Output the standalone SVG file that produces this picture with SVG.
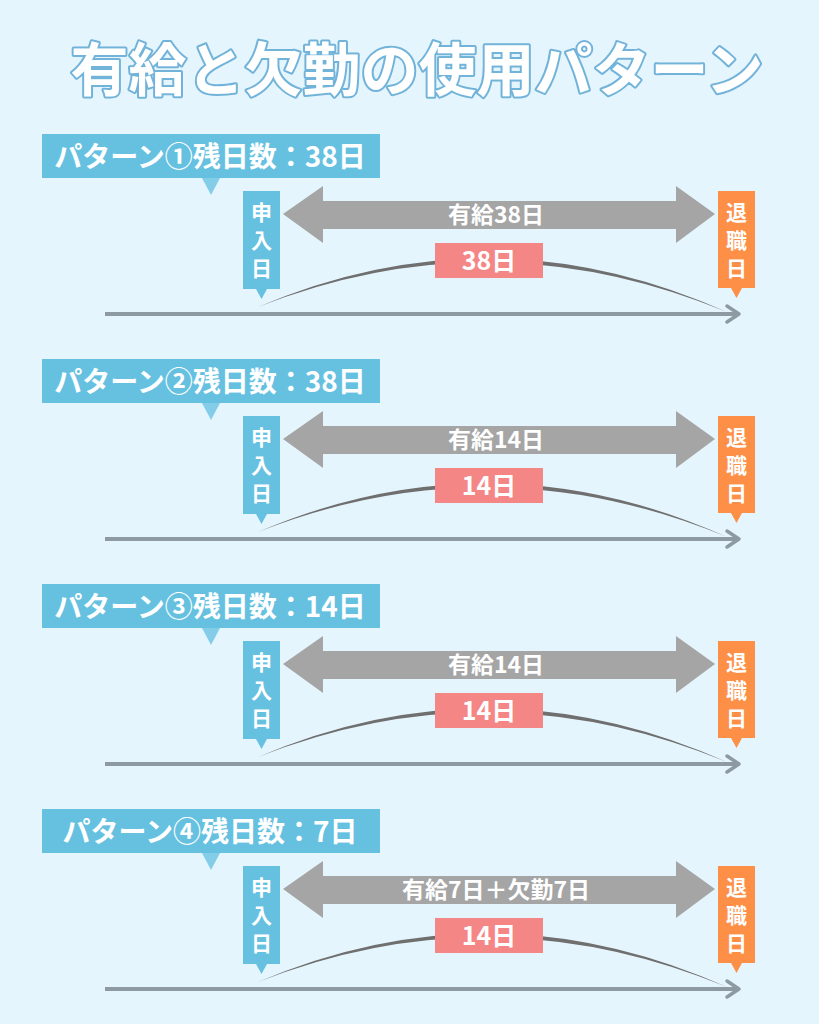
<svg xmlns="http://www.w3.org/2000/svg" width="819" height="1024" viewBox="0 0 819 1024">
<style>
.t{font-family:"Noto Sans CJK JP","Noto Sans",sans-serif;font-weight:700;fill:#fff}
.lbl{font-size:28px;text-anchor:middle}
.v{font-size:21px;writing-mode:vertical-rl;letter-spacing:7px}
.ar{font-size:23px;text-anchor:middle}
.pk{font-size:25px;text-anchor:middle}
.title{font-size:58px;text-anchor:middle;stroke:#72b3da;stroke-width:4;stroke-linejoin:round;paint-order:stroke}
.blue{fill:#66c1e1}
.tail{fill:#84cde8}
.org{fill:#fe8f47}
.gray{fill:#a5a5a5}
.pink{fill:#f58686}
.tl{stroke:#8d9aa2;stroke-width:4;fill:none}
.tlh{stroke:#8d9aa2;stroke-width:3.5;fill:none;stroke-linecap:round;stroke-linejoin:round}
.cv{fill:#6f6f6f}
</style>
<rect width="819" height="1024" fill="#e5f5fd"/>
<g id="title"><text class="t title" x="417" y="91">有給と欠勤の使用パターン</text></g>

<g id="pattern1">
<g id="p1-label"><rect class="blue" x="42" y="134" width="338" height="44"/><polygon class="tail" points="202,178 220,178 211,195"/><text class="t lbl" x="210" y="167">パターン①残日数：38日</text></g>
<g id="p1-connectors">
<line class="tl" x1="105" y1="314" x2="738" y2="314"/><polyline class="tlh" points="727,306 739,314 727,322"/>
<path class="cv" d="M258,307 Q492,207 727,312 Q492,215 258,307 Z"/>
<polygon class="gray" points="283,214 323,186 323,201 676,201 676,186 715,214 676,243 676,229 323,229 323,243"/>
<text class="t ar" x="496" y="223">有給38日</text>
</g>
<g id="p1-start"><rect class="blue" x="243" y="191" width="37" height="98"/><polygon class="blue" points="256,289 267,289 261.5,299"/><text class="t v" x="261.5" y="202">申入日</text></g>
<g id="p1-days"><rect class="pink" x="435" y="243" width="108" height="35"/><text class="t pk" x="489" y="270">38日</text></g>
<g id="p1-end"><rect class="org" x="718" y="191" width="37" height="97"/><polygon class="org" points="731,288 742,288 736.5,298"/><text class="t v" x="736.5" y="202">退職日</text></g>
</g>

<g id="pattern2" transform="translate(0,225)">
<g id="p2-label"><rect class="blue" x="42" y="134" width="338" height="44"/><polygon class="tail" points="202,178 220,178 211,195"/><text class="t lbl" x="210" y="167">パターン②残日数：38日</text></g>
<g id="p2-connectors">
<line class="tl" x1="105" y1="314" x2="738" y2="314"/><polyline class="tlh" points="727,306 739,314 727,322"/>
<path class="cv" d="M258,307 Q492,207 727,312 Q492,215 258,307 Z"/>
<polygon class="gray" points="283,214 323,186 323,201 676,201 676,186 715,214 676,243 676,229 323,229 323,243"/>
<text class="t ar" x="496" y="223">有給14日</text>
</g>
<g id="p2-start"><rect class="blue" x="243" y="191" width="37" height="98"/><polygon class="blue" points="256,289 267,289 261.5,299"/><text class="t v" x="261.5" y="202">申入日</text></g>
<g id="p2-days"><rect class="pink" x="435" y="243" width="108" height="35"/><text class="t pk" x="489" y="270">14日</text></g>
<g id="p2-end"><rect class="org" x="718" y="191" width="37" height="97"/><polygon class="org" points="731,288 742,288 736.5,298"/><text class="t v" x="736.5" y="202">退職日</text></g>
</g>

<g id="pattern3" transform="translate(0,450)">
<g id="p3-label"><rect class="blue" x="42" y="134" width="338" height="44"/><polygon class="tail" points="202,178 220,178 211,195"/><text class="t lbl" x="210" y="167">パターン③残日数：14日</text></g>
<g id="p3-connectors">
<line class="tl" x1="105" y1="314" x2="738" y2="314"/><polyline class="tlh" points="727,306 739,314 727,322"/>
<path class="cv" d="M258,307 Q492,207 727,312 Q492,215 258,307 Z"/>
<polygon class="gray" points="283,214 323,186 323,201 676,201 676,186 715,214 676,243 676,229 323,229 323,243"/>
<text class="t ar" x="496" y="223">有給14日</text>
</g>
<g id="p3-start"><rect class="blue" x="243" y="191" width="37" height="98"/><polygon class="blue" points="256,289 267,289 261.5,299"/><text class="t v" x="261.5" y="202">申入日</text></g>
<g id="p3-days"><rect class="pink" x="435" y="243" width="108" height="35"/><text class="t pk" x="489" y="270">14日</text></g>
<g id="p3-end"><rect class="org" x="718" y="191" width="37" height="97"/><polygon class="org" points="731,288 742,288 736.5,298"/><text class="t v" x="736.5" y="202">退職日</text></g>
</g>

<g id="pattern4" transform="translate(0,675)">
<g id="p4-label"><rect class="blue" x="42" y="134" width="338" height="44"/><polygon class="tail" points="202,178 220,178 211,195"/><text class="t lbl" x="210" y="167">パターン④残日数：7日</text></g>
<g id="p4-connectors">
<line class="tl" x1="105" y1="314" x2="738" y2="314"/><polyline class="tlh" points="727,306 739,314 727,322"/>
<path class="cv" d="M258,307 Q492,207 727,312 Q492,215 258,307 Z"/>
<polygon class="gray" points="283,214 323,186 323,201 676,201 676,186 715,214 676,243 676,229 323,229 323,243"/>
<text class="t ar" x="496" y="223">有給7日＋欠勤7日</text>
</g>
<g id="p4-start"><rect class="blue" x="243" y="191" width="37" height="98"/><polygon class="blue" points="256,289 267,289 261.5,299"/><text class="t v" x="261.5" y="202">申入日</text></g>
<g id="p4-days"><rect class="pink" x="435" y="243" width="108" height="35"/><text class="t pk" x="489" y="270">14日</text></g>
<g id="p4-end"><rect class="org" x="718" y="191" width="37" height="97"/><polygon class="org" points="731,288 742,288 736.5,298"/><text class="t v" x="736.5" y="202">退職日</text></g>
</g>
</svg>
